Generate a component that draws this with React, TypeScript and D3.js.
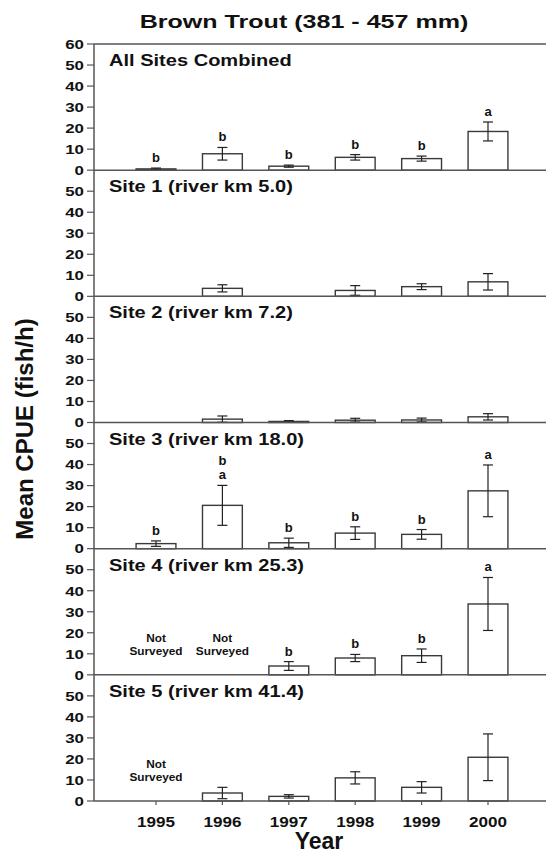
import React from 'react';
import * as d3 from 'd3';

// values (mean CPUE, fish/h, and +/- error)
const years = ['1995', '1996', '1997', '1998', '1999', '2000'];

const siteNames = [
  'All Sites Combined',
  'Site 1 (river km 5.0)',
  'Site 2 (river km 7.2)',
  'Site 3 (river km 18.0)',
  'Site 4 (river km 25.3)',
  'Site 5 (river km 41.4)'
];

// null = not surveyed
const allMean = [0.6, 7.8, 1.9, 6.1, 5.5, 18.4];
const allErr = [0.4, 3.0, 0.5, 1.3, 1.2, 4.5];
const site1Mean = [0, 3.8, 0, 2.8, 4.6, 6.9];
const site1Err = [0, 1.7, 0, 2.3, 1.4, 3.9];
const site2Mean = [0, 1.6, 0.5, 1.1, 1.2, 2.7];
const site2Err = [0, 1.5, 0.4, 0.9, 0.9, 1.5];
const site3Mean = [2.4, 20.6, 2.8, 7.4, 6.8, 27.5];
const site3Err = [1.3, 9.5, 2.2, 3.0, 2.3, 12.3];
const site4Mean = [null, null, 4.2, 8.0, 9.1, 33.7];
const site4Err = [null, null, 2.1, 1.7, 3.2, 12.6];
const site5Mean = [null, 3.8, 2.2, 11.0, 6.5, 20.8];
const site5Err = [null, 2.7, 0.8, 2.9, 2.7, 11.1];

// significance letters, lines listed top to bottom
const allLetters = [['b'], ['b'], ['b'], ['b'], ['b'], ['a']];
const site3Letters = [['b'], ['b', 'a'], ['b'], ['b'], ['b'], ['a']];
const site4Letters = [[], [], ['b'], ['b'], ['b'], ['a']];

const panelMeans = [allMean, site1Mean, site2Mean, site3Mean, site4Mean, site5Mean];
const panelErrs = [allErr, site1Err, site2Err, site3Err, site4Err, site5Err];
const panelLetters = [allLetters, null, null, site3Letters, site4Letters, null];

const yTicksTop = [0, 10, 20, 30, 40, 50, 60];
const yTicks = [0, 10, 20, 30, 40, 50];

const W = 546;
const H = 854;
const axisX = 94;
const plotTop = 44;
const plotBottom = 801;
const font = '"Liberation Sans", Arial, Helvetica, sans-serif';
const axisColor = '#555';
const barColor = '#3a3a3a';

function SText({ x, y, size, sx = 1, anchor = 'start', rotate = 0, children }) {
  return (
    <text
      transform={`translate(${x},${y}) rotate(${rotate}) scale(${sx},1)`}
      textAnchor={anchor}
      fontSize={size}
      fontWeight="bold"
      fontFamily={font}
      fill="#111"
    >
      {children}
    </text>
  );
}

function Panel({ index, x, panelH }) {
  const base = plotTop + (index + 1) * panelH;
  const y = d3.scaleLinear().domain([0, 60]).range([base, base - panelH]);
  const means = panelMeans[index];
  const errs = panelErrs[index];
  const letters = panelLetters[index];
  const ticks = index === 0 ? yTicksTop : yTicks;
  const cap = 5;

  return (
    <g>
      {ticks.map(t => (
        <g key={t}>
          <line x1={axisX - 7} x2={axisX} y1={y(t)} y2={y(t)} stroke={axisColor} strokeWidth={1.2} />
          <SText x={axisX - 10} y={y(t) + 4.8} size={13.5} sx={1.25} anchor="end">
            {t}
          </SText>
        </g>
      ))}
      <SText x={109} y={base - panelH + 22} size={16.3} sx={1.23}>
        {siteNames[index]}
      </SText>
      {years.map((yr, i) => {
        const m = means[i];
        const cx = x(yr) + x.bandwidth() / 2;
        if (m === null) {
          return (
            <g key={yr}>
              <SText x={cx} y={base - 33} size={10} sx={1.18} anchor="middle">
                Not
              </SText>
              <SText x={cx} y={base - 20} size={10} sx={1.18} anchor="middle">
                Surveyed
              </SText>
            </g>
          );
        }
        const e = errs[i];
        const top = y(m + e);
        const lines = letters ? letters[i] : [];
        return (
          <g key={yr}>
            {m > 0 && (
              <rect
                x={x(yr)}
                y={y(m)}
                width={x.bandwidth()}
                height={base - y(m)}
                fill="white"
                stroke={barColor}
                strokeWidth={1.4}
              />
            )}
            {e > 0 && (
              <g stroke="#222" strokeWidth={1.2}>
                <line x1={cx} x2={cx} y1={y(m + e)} y2={y(Math.max(m - e, 0))} />
                <line x1={cx - cap} x2={cx + cap} y1={y(m + e)} y2={y(m + e)} />
                <line x1={cx - cap} x2={cx + cap} y1={y(Math.max(m - e, 0))} y2={y(Math.max(m - e, 0))} />
              </g>
            )}
            {lines.map((l, k) => (
              <SText key={k} x={cx} y={top - 6 - (lines.length - 1 - k) * 14} size={13} anchor="middle">
                {l}
              </SText>
            ))}
          </g>
        );
      })}
      <line x1={axisX} x2={W} y1={base} y2={base} stroke={axisColor} strokeWidth={1.5} />
    </g>
  );
}

export default function App() {
  const panelH = (plotBottom - plotTop) / siteNames.length;
  const x = d3
    .scaleBand()
    .domain(years)
    .range([122.8, 521.2])
    .paddingInner(0.4)
    .paddingOuter(0.2);

  return (
    <svg width={W} height={H} style={{ position: 'absolute', left: 0, top: 0, background: 'white' }}>
      <rect width={W} height={H} fill="white" />
      <SText x={304} y={28} size={19} sx={1.32} anchor="middle">
        Brown Trout (381 - 457 mm)
      </SText>
      <line x1={axisX} x2={W} y1={plotTop} y2={plotTop} stroke={axisColor} strokeWidth={1.5} />
      <line x1={axisX} x2={axisX} y1={plotTop} y2={plotBottom} stroke={axisColor} strokeWidth={1.5} />
      {siteNames.map((s, i) => (
        <Panel key={s} index={i} x={x} panelH={panelH} />
      ))}
      {years.map(yr => {
        const cx = x(yr) + x.bandwidth() / 2;
        return (
          <g key={yr}>
            <line x1={cx} x2={cx} y1={plotBottom} y2={plotBottom + 4} stroke={axisColor} strokeWidth={1.2} />
            <SText x={cx} y={827} size={15} sx={1.14} anchor="middle">
              {yr}
            </SText>
          </g>
        );
      })}
      <SText x={319} y={848.5} size={23} anchor="middle">
        Year
      </SText>
      <SText x={33} y={429} size={24} anchor="middle" rotate={-90}>
        Mean CPUE (fish/h)
      </SText>
    </svg>
  );
}
